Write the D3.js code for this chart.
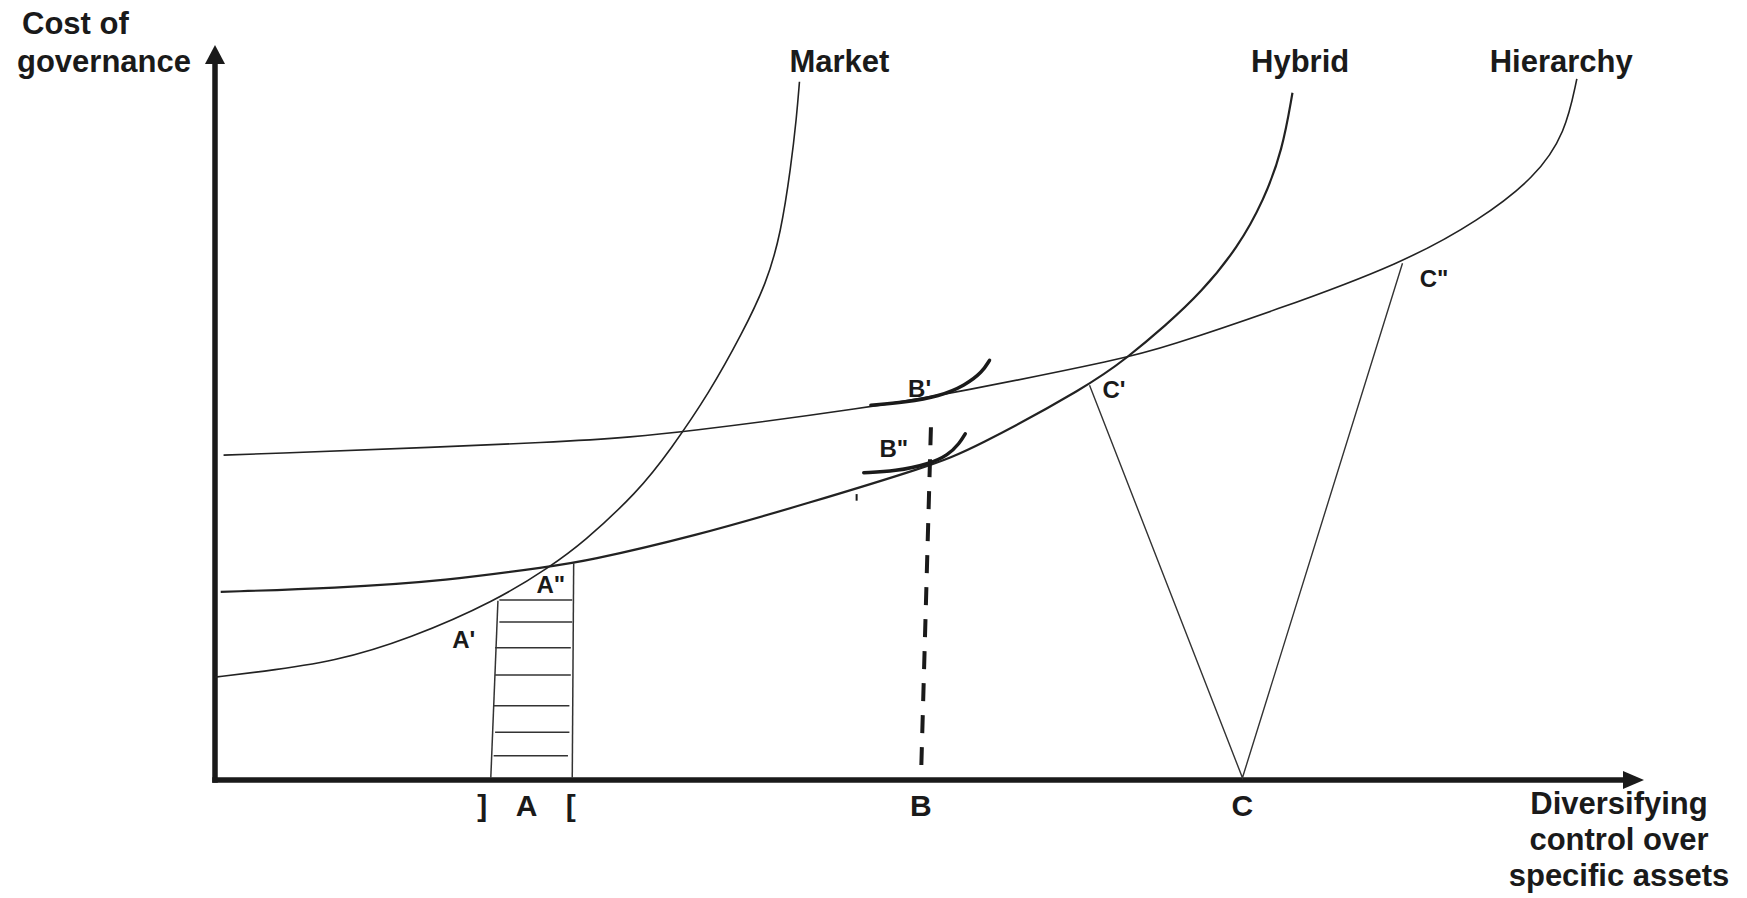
<!DOCTYPE html>
<html>
<head>
<meta charset="utf-8">
<script src="https://cdn.jsdelivr.net/npm/d3@7"></script>
<style>
	html, body { margin: 0; padding: 0; background: #fff; }
	svg text { font-family: "Liberation Sans", Arial, sans-serif; font-weight: bold; fill: #1a1a1a; }
</style>
</head>
<body>
<svg id="canvas"></svg>
<script>
var width = 1747,
	height = 898;

// chart units: x 0-100 along the horizontal axis, y 0-100 up the vertical axis
var market = [[0, 14.0], [3.1, 14.7], [8.4, 16.1], [13.6, 19.2], [19.7, 24.4], [23.5, 29.1],
	[25.7, 32.2], [29.6, 39.2], [31.9, 45.0], [34.6, 52.7], [36.9, 60.8], [38.6, 67.6],
	[39.6, 74.4], [40.3, 83.4], [40.7, 90.2], [40.9, 95.0]];

var hybrid = [[0.4, 25.6], [8.4, 26.1], [16.2, 27.1], [23.6, 29.1], [25.8, 29.7], [33.6, 33.2],
	[41.4, 37.6], [50.0, 42.7], [53.0, 45.0], [61.2, 53.7], [63.8, 57.4], [66.5, 61.8],
	[69.0, 66.3], [71.6, 72.5], [73.4, 78.9], [74.7, 85.7], [75.4, 93.5]];

var hierarchy = [[0.6, 44.2], [25.8, 46.0], [32.8, 47.3], [45.9, 50.7], [51.8, 52.7], [63.8, 57.4],
	[66.5, 58.9], [74.2, 63.9], [83.1, 70.3], [88.5, 76.2], [92.4, 82.0], [94.5, 88.0], [95.3, 95.4]];

var curveNames = ["Market", "Hybrid", "Hierarchy"];
var curveLabelX = [40.2, 72.5, 89.2];
var curveLabelY = 96.3;

// hatched zone around A
var hatchLeftSide = [[19.8, 24.4], [19.3, 0.3]];
var hatchRightSide = [[25.1, 29.5], [25.0, 0.3]];
var hatchY = [24.5, 21.5, 18.0, 14.3, 10.1, 6.5, 3.3];
var hatchLeft = [19.9, 19.9, 19.6, 19.6, 19.5, 19.6, 19.5];
var hatchRight = [25.0, 25.0, 24.9, 24.9, 24.8, 24.8, 24.7];

// B: dashed drop line and the two small tangent arcs
var bDrop = [[50.1, 48.0], [49.4, 0]];
var bPrimeArc = [[45.9, 51.0], [48.3, 51.4], [50.7, 52.2], [52.5, 53.7], [53.7, 55.5], [54.2, 57.1]];
var bDoubleArc = [[45.4, 41.8], [47.6, 42.0], [50.0, 43.0], [51.3, 44.2], [52.1, 45.8], [52.5, 47.1]];
var tick = [[44.9, 38.9], [44.9, 38.0]];

// C: the V between C', C and C"
var triangle = [[61.2, 53.7], [71.9, 0.3], [83.1, 70.3]];

var axisLetters = ["]", "A", "[", "B", "C"];
var axisLetterX = [18.7, 21.8, 24.9, 49.4, 71.9];

var pointLabels = ["A'", "A\"", "B'", "B\"", "C'", "C\""];
var pointLabelX = [16.6, 22.5, 48.5, 46.5, 62.1, 84.3];
var pointLabelY = [18.0, 25.4, 52.1, 43.9, 52.0, 67.1];

var yTitle = ["Cost of", "governance"];
var xTitle = ["Diversifying", "control over", "specific assets"];

var svg = d3.select("#canvas")
	.attr("width", width)
	.attr("height", height);

var x = d3.scaleLinear()
	.domain([0, 100])
	.range([215, 1644]);

var y = d3.scaleLinear()
	.domain([0, 100])
	.range([780, 45]);

var line = d3.line()
	.x(function(d){ return x(d[0]); })
	.y(function(d){ return y(d[1]); });

var smooth = d3.line()
	.x(function(d){ return x(d[0]); })
	.y(function(d){ return y(d[1]); })
	.curve(d3.curveBasis);

// axes with arrow heads
var ink = "#1a1a1a";
svg.append("line")
	.attr("x1", x(0)).attr("y1", y(0))
	.attr("x2", x(0)).attr("y2", y(100) + 16)
	.attr("stroke", ink).attr("stroke-width", 5.5).attr("stroke-linecap", "square");
svg.append("line")
	.attr("x1", x(0)).attr("y1", y(0))
	.attr("x2", x(100) - 18).attr("y2", y(0))
	.attr("stroke", ink).attr("stroke-width", 5.5).attr("stroke-linecap", "square");
svg.append("path")
	.attr("d", "M" + x(0) + "," + y(100) + "L" + (x(0) + 10) + "," + (y(100) + 19) + "L" + (x(0) - 10) + "," + (y(100) + 19) + "Z")
	.attr("fill", ink);
svg.append("path")
	.attr("d", "M" + x(100) + "," + y(0) + "L" + (x(100) - 21) + "," + (y(0) - 9) + "L" + (x(100) - 21) + "," + (y(0) + 9) + "Z")
	.attr("fill", ink);

// the three governance curves
var curves = [market, hybrid, hierarchy];
var curveWidth = [1.6, 2.2, 1.6];
svg.selectAll("path.curve")
	.data(curves)
	.enter()
	.append("path")
	.attr("class", "curve")
	.attr("d", smooth)
	.attr("fill", "none")
	.attr("stroke", "#222")
	.attr("stroke-width", function(d, i){ return curveWidth[i]; });

svg.selectAll("text.curve-label")
	.data(curveNames)
	.enter()
	.append("text")
	.attr("class", "curve-label")
	.attr("x", function(d, i){ return x(curveLabelX[i]); })
	.attr("y", y(curveLabelY))
	.attr("font-size", 31)
	.text(function(d){ return d; });

// hatching
[hatchLeftSide, hatchRightSide].forEach(function(s){
	svg.append("path")
		.attr("d", line(s))
		.attr("fill", "none")
		.attr("stroke", "#333")
		.attr("stroke-width", 1.5);
});
svg.selectAll("line.hatch")
	.data(hatchY)
	.enter()
	.append("line")
	.attr("class", "hatch")
	.attr("x1", function(d, i){ return x(hatchLeft[i]); })
	.attr("x2", function(d, i){ return x(hatchRight[i]); })
	.attr("y1", function(d){ return y(d); })
	.attr("y2", function(d){ return y(d); })
	.attr("stroke", "#333")
	.attr("stroke-width", 1.5);

// B
svg.append("path")
	.attr("d", line(bDrop))
	.attr("fill", "none")
	.attr("stroke", ink)
	.attr("stroke-width", 4)
	.attr("stroke-dasharray", "18,14");
[bPrimeArc, bDoubleArc].forEach(function(a){
	svg.append("path")
		.attr("d", smooth(a))
		.attr("fill", "none")
		.attr("stroke", ink)
		.attr("stroke-width", 3.5)
		.attr("stroke-linecap", "round");
});
svg.append("path")
	.attr("d", line(tick))
	.attr("stroke", ink)
	.attr("stroke-width", 2);

// C
svg.append("path")
	.attr("d", line(triangle))
	.attr("fill", "none")
	.attr("stroke", "#333")
	.attr("stroke-width", 1.4);

// labels
svg.selectAll("text.axis-letter")
	.data(axisLetters)
	.enter()
	.append("text")
	.attr("class", "axis-letter")
	.attr("x", function(d, i){ return x(axisLetterX[i]); })
	.attr("y", y(0) + 36)
	.attr("text-anchor", "middle")
	.attr("font-size", 30)
	.text(function(d){ return d; });

svg.selectAll("text.point-label")
	.data(pointLabels)
	.enter()
	.append("text")
	.attr("class", "point-label")
	.attr("x", function(d, i){ return x(pointLabelX[i]); })
	.attr("y", function(d, i){ return y(pointLabelY[i]); })
	.attr("font-size", 24)
	.text(function(d){ return d; });

svg.selectAll("text.y-title")
	.data(yTitle)
	.enter()
	.append("text")
	.attr("class", "y-title")
	.attr("x", function(d, i){ return i == 0 ? 22 : 17; })
	.attr("y", function(d, i){ return 34 + i * 38; })
	.attr("font-size", 31)
	.text(function(d){ return d; });

svg.selectAll("text.x-title")
	.data(xTitle)
	.enter()
	.append("text")
	.attr("class", "x-title")
	.attr("x", 1619)
	.attr("y", function(d, i){ return 814 + i * 36; })
	.attr("text-anchor", "middle")
	.attr("font-size", 31)
	.text(function(d){ return d; });
</script>
</body>
</html>
